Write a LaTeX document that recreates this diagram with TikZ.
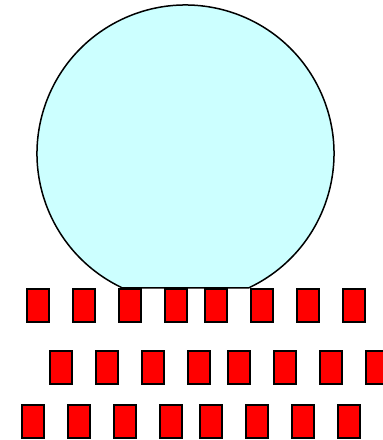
\documentclass[tikz,border=0pt]{standalone}
\usetikzlibrary{positioning}
\definecolor{domefill}{HTML}{CCFFFF}
\definecolor{seatred}{HTML}{FF0000}

\begin{document}
\begin{tikzpicture}[
    x=1pt, y=1pt,
    node distance=22pt,
    dome/.style={
        draw,
        line width=1.5pt,
        fill=domefill
    },
    seat/.style={
        draw,
        line width=2pt,
        fill=seatred,
        inner sep=0pt,
        minimum width=22pt,
        minimum height=33pt
    }
]
    \clip (0,0) rectangle (383,440);

    \coordinate (domecentre) at (185.5,286.5);
    \draw[dome] (domecentre) ++(-64.9:148.5) arc[start angle=-64.9, end angle=244.9, radius=148.5] -- cycle;

    % first row
    \node[seat] (r1a) at (38,134.5) {};
    \node[seat, right=of r1a] (r1b) {};
    \node[seat, right=of r1b] (r1c) {};
    \node[seat, right=of r1c] (r1d) {};
    \node[seat, right=16pt of r1d] (r1e) {};
    \node[seat, right=of r1e] (r1f) {};
    \node[seat, right=of r1f] (r1g) {};
    \node[seat, right=of r1g] (r1h) {};

    % second row
    \node[seat] (r2a) at (61,72.5) {};
    \node[seat, right=of r2a] (r2b) {};
    \node[seat, right=of r2b] (r2c) {};
    \node[seat, right=of r2c] (r2d) {};
    \node[seat, right=16pt of r2d] (r2e) {};
    \node[seat, right=of r2e] (r2f) {};
    \node[seat, right=of r2f] (r2g) {};
    \node[seat, right=of r2g] (r2h) {};

    % third row
    \node[seat] (r3a) at (32.5,18.5) {};
    \node[seat, right=of r3a] (r3b) {};
    \node[seat, right=of r3b] (r3c) {};
    \node[seat, right=of r3c] (r3d) {};
    \node[seat, right=16pt of r3d] (r3e) {};
    \node[seat, right=of r3e] (r3f) {};
    \node[seat, right=of r3f] (r3g) {};
    \node[seat, right=of r3g] (r3h) {};
\end{tikzpicture}
\end{document}
